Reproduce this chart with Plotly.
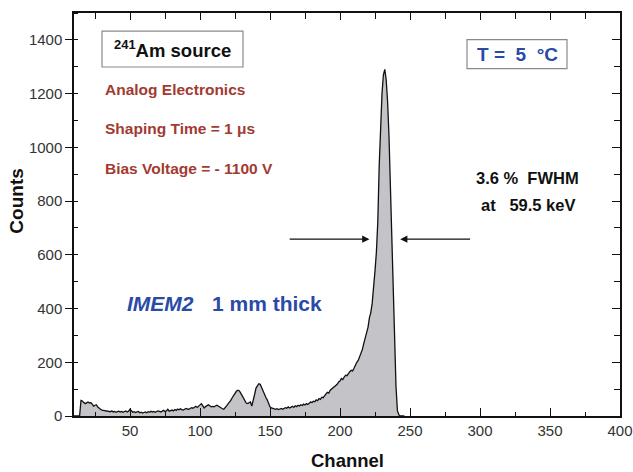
import plotly.graph_objects as go

# Pulse-height spectrum of a 241Am source (counts per channel)
channel_first = 10
counts = [
    0, 0, 0, 0, 0,
    58, 56, 50, 46, 49, 52, 48, 50, 44, 37,
    40, 42, 33, 27, 25, 22, 21, 19, 20, 17,
    18, 16, 19, 15, 17, 14, 16, 18, 15, 17,
    14, 16, 19, 15, 18, 25, 17, 14, 16, 13,
    15, 17, 12, 14, 11, 13, 15, 12, 16, 14,
    18, 15, 17, 14, 16, 19, 17, 15, 18, 21,
    17, 19, 25, 18, 20, 22, 19, 24, 21, 26,
    23, 27, 24, 22, 25, 28, 26, 25, 28, 31,
    29, 33, 36, 32, 38, 42, 46, 38, 30, 35,
    40, 42, 38, 34, 36, 34, 37, 40, 37, 33,
    30, 27, 25, 30, 38, 45, 50, 58, 68, 78,
    85, 92, 96, 94, 86, 77, 66, 55, 48, 46,
    50, 52, 37, 55, 80, 104, 114, 120, 118, 105,
    89, 78, 70, 60, 45, 34, 30, 28, 27, 25,
    27, 24, 26, 28, 25, 27, 31, 29, 34, 30,
    33, 36, 32, 38, 35, 40, 37, 42, 39, 44,
    41, 46, 43, 48, 52, 50, 55, 53, 60, 57,
    65, 62, 70, 68, 77, 82, 88, 85, 96, 100,
    104, 110, 114, 118, 127, 130, 140, 136, 145, 152,
    150, 160, 165, 170, 168, 178, 190, 200, 207, 220,
    230, 248, 270, 290, 305, 330, 365, 385, 420, 470,
    540, 610, 723, 930, 1100, 1200, 1270, 1290, 1250, 1170,
    1040, 850, 640, 420, 257, 110, 20, 5, 0, 0,
    0, 0,
]
channels = list(range(channel_first, channel_first + len(counts)))

x_range = [10, 400]
y_range = [0, 1500]

# FWHM markers: arrow tips and tails (channel) at the half-height level
fwhm_level = 658
fwhm_left = (163, 221)
fwhm_right = (294, 243)

FONT = "Arial, Liberation Sans, sans-serif"
tick_font = dict(family=FONT, size=15, color="#333333")
red = "#a23a32"
blue = "#2a4aa8"
ink = "#111111"

fig = go.Figure()
fig.add_trace(go.Scatter(
    x=channels, y=counts, mode="lines",
    line=dict(color=ink, width=1.3),
    fill="tozeroy", fillcolor="#c4c4c8",
    showlegend=False, hoverinfo="x+y",
))
# empty trace so the mirrored top/right axes get drawn
fig.add_trace(go.Scatter(x=[None], y=[None], xaxis="x2", yaxis="y2",
                         showlegend=False, hoverinfo="skip"))

axis_line = dict(showline=True, linecolor=ink, linewidth=1.5,
                 showgrid=False, zeroline=False, automargin=False)

fig.update_layout(
    width=633, height=472,
    margin=dict(l=74, r=13, t=13, b=56),
    paper_bgcolor="white", plot_bgcolor="white",
    xaxis=dict(range=x_range, tick0=0, dtick=50, ticks="inside", ticklen=8,
               tickwidth=1.3, tickcolor=ink,
               minor=dict(dtick=25, ticks="inside", ticklen=4, tickwidth=1.3,
                          tickcolor=ink),
               tickfont=tick_font, **axis_line),
    yaxis=dict(range=y_range, tick0=0, dtick=200, ticks="outside", ticklen=7,
               tickwidth=1.3, tickcolor=ink,
               minor=dict(dtick=100, ticks="inside", ticklen=4, tickwidth=1.3,
                          tickcolor=ink),
               tickfont=tick_font, **axis_line),
    xaxis2=dict(range=x_range, overlaying="x", side="top", anchor="y",
                tick0=0, dtick=50, ticks="inside", ticklen=7, tickwidth=1.3,
                tickcolor=ink, showticklabels=False,
                minor=dict(dtick=25, ticks="inside", ticklen=6, tickwidth=1.3,
                           tickcolor=ink),
                **axis_line),
    yaxis2=dict(range=y_range, overlaying="y", side="right", anchor="x",
                tick0=0, dtick=200, ticks="inside", ticklen=8, tickwidth=1.3,
                tickcolor=ink, showticklabels=False,
                minor=dict(dtick=100, ticks="inside", ticklen=6, tickwidth=1.3,
                           tickcolor=ink),
                **axis_line),
)

# framed labels
fig.add_shape(type="rect", xref="paper", yref="paper",
              x0=0.0513, x1=0.3095, y0=0.866, y1=0.955,
              line=dict(color="#8a8a8a", width=1.2), fillcolor="white")
fig.add_shape(type="rect", xref="paper", yref="paper",
              x0=0.7198, x1=0.9029, y0=0.862, y1=0.934,
              line=dict(color="#8a8a8a", width=1.2), fillcolor="white")


def label(text, x, y, size, color, xanchor="center", **kw):
    return dict(xref="paper", yref="paper", x=x, y=y, xanchor=xanchor,
                yanchor="middle", showarrow=False, text=text,
                font=dict(family=FONT, size=size, color=color), **kw)


ann = [
    label("<b>Counts</b>", -0.1044, 0.5344, 19, ink, textangle=-90),
    label("<b>Channel</b>", 0.5, -0.110, 18.5, ink),
    label("<b><sup>241</sup>Am source</b>", 0.1804, 0.910, 18.5, ink),
    label("<b>T =\u00a0 5\u00a0 °C</b>", 0.8114, 0.898, 19, blue),
    label("<b>3.6 %\u00a0 FWHM</b>", 0.8315, 0.590, 16.5, ink),
    label("<b>at\u00a0\u00a0 59.5 keV</b>", 0.8315, 0.523, 16.5, ink),
    label("<b><i>IMEM2</i></b>", 0.0934, 0.280, 21, blue, xanchor="left"),
    label("<b>1 mm thick</b>", 0.249, 0.280, 21, blue, xanchor="left"),
]
for txt, yp in [("Analog Electronics", 0.811),
                ("Shaping Time = 1 μs", 0.7145),
                ("Bias Voltage = - 1100 V", 0.615)]:
    ann.append(label(f"<b>{txt}</b>", 0.053, yp, 15.5, red, xanchor="left"))
for tail, tip in (fwhm_left, fwhm_right):
    ann.append(dict(xref="x", yref="y", axref="x", ayref="y",
                    x=tip, y=fwhm_level, ax=tail, ay=fwhm_level, text="",
                    showarrow=True, arrowhead=2, arrowsize=1.2, arrowwidth=1.2,
                    arrowcolor=ink, standoff=0))
fig.update_layout(annotations=ann)

fig.write_html("out.html")
